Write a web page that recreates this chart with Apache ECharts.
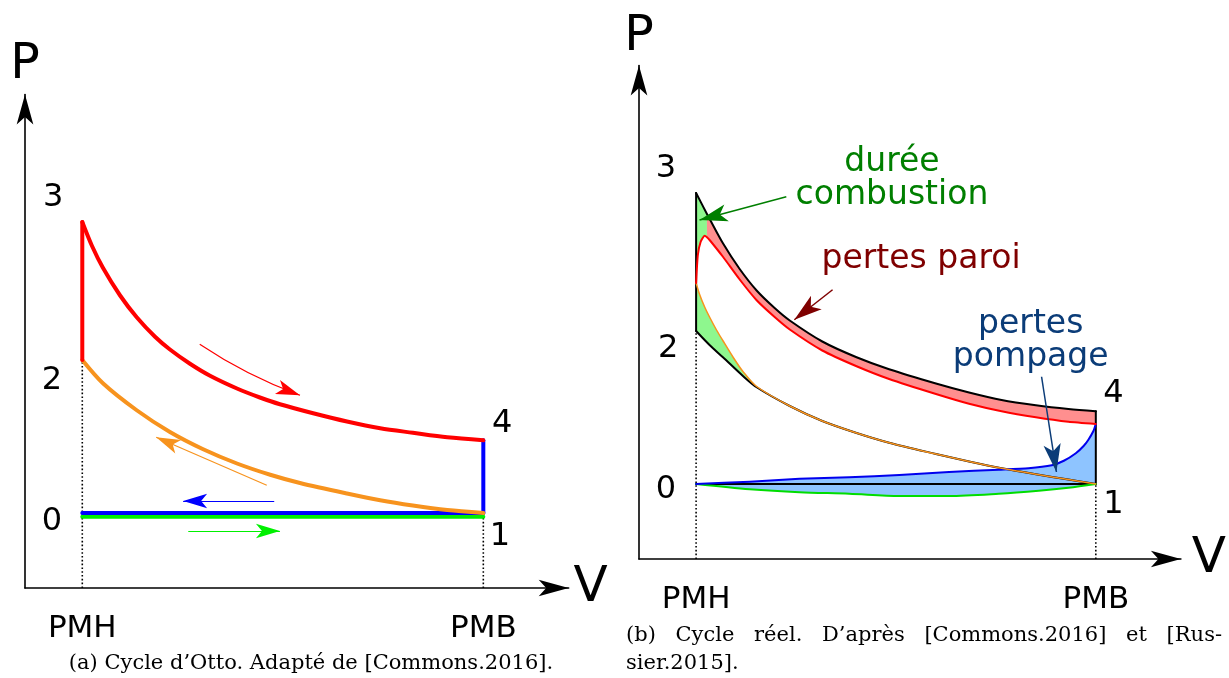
<!DOCTYPE html>
<html><head><meta charset="utf-8">
<script src="https://cdn.jsdelivr.net/npm/echarts@6/dist/echarts.min.js"></script>
<style>html,body{margin:0;padding:0;background:#fff}#c{width:1229px;height:678px}</style>
</head><body><div id="c"></div>
<script>
// ---------- shared axis content ----------
const volumeTicks = [1, 8];
const volumeTickLabels = ['PMH', 'PMB'];
const V_MAX = 9.49, P_MAX = 6.58;

// ---------- (a) Otto cycle (V, P) ----------
const ottoCombustion = [[1, 3.04], [1, 4.88]];
const ottoExpansion = [[1,4.88],[1.17,4.56],[1.36,4.27],[1.66,3.90],[1.95,3.61],[2.27,3.35],[2.53,3.18],[2.88,2.99],[3.23,2.83],[3.70,2.66],[4.10,2.54],[4.45,2.45],[5.03,2.33],[5.62,2.22],[6.20,2.13],[6.77,2.07],[7.37,2.01],[8,1.97]];
const ottoCompression = [[1,3.04],[1.36,2.73],[1.95,2.37],[2.53,2.08],[3.11,1.85],[3.70,1.66],[4.28,1.51],[4.80,1.40],[5.62,1.26],[6.20,1.17],[6.77,1.10],[7.37,1.04],[8,1.0]];
const ottoBlowdown = [[8, 1.97], [8, 1.0]];
const ottoExhaust = [[8, 1.0], [1, 1.0]];
const ottoIntake = [[1, 0.95], [8, 0.95]];
const ottoPMH = [[1, 0], [1, 3.04]];
const ottoPMB = [[8, 0], [8, 0.95]];
const ottoArrowExpansion = [[3.05, 3.25], [4.80, 2.57]];
const ottoArrowCompression = [[4.22, 1.37], [2.29, 2.01]];
const ottoArrowExhaust = [[4.35, 1.16], [2.76, 1.16]];
const ottoArrowIntake = [[2.85, 0.76], [4.45, 0.76]];
const ottoStateLabels = [['3', 0.49, 5.2], ['2', 0.47, 2.76], ['0', 0.47, 0.89], ['4', 8.33, 2.19], ['1', 8.29, 0.68]];

// ---------- (b) real cycle (V, P) ----------
const idealCombustion = [[1, 3.04], [1, 4.88]];
const idealExpansion = [[1,4.88],[1.19,4.60],[1.24,4.53],[1.47,4.21],[1.76,3.87],[2.06,3.58],[2.37,3.35],[2.64,3.18],[3.21,2.90],[3.81,2.69],[4.38,2.53],[5.20,2.34],[5.78,2.22],[6.35,2.12],[6.95,2.05],[7.52,2.00],[8,1.97]];
const idealCompression = [[1,3.04],[1.24,2.85],[1.47,2.69],[1.82,2.44],[2.06,2.29],[2.64,2.04],[3.21,1.84],[3.81,1.68],[4.38,1.55],[5.20,1.40],[5.78,1.30],[6.35,1.21],[6.95,1.13],[7.52,1.06],[8,1.0]];
const idealBlowdown = [[8, 1.97], [8, 1.0]];
const idealExhaust = [[8, 1.0], [1, 1.0]];
const realExpansion = [[1,3.68],[1.03,4.05],[1.08,4.23],[1.15,4.31],[1.19,4.29],[1.24,4.25],[1.47,4.03],[1.76,3.73],[2.06,3.45],[2.37,3.23],[2.64,3.06],[3.21,2.78],[3.81,2.57],[4.38,2.40],[5.20,2.20],[5.78,2.07],[6.35,1.97],[6.95,1.89],[7.52,1.83],[8,1.80]];
const realCompression = [[1,3.68],[1.06,3.53],[1.15,3.36],[1.24,3.22],[1.36,3.05],[1.47,2.91],[1.64,2.70],[1.82,2.50],[2.06,2.30],[2.64,2.04],[3.21,1.84],[3.81,1.68],[4.38,1.55],[5.20,1.40],[5.78,1.30],[6.35,1.21],[6.95,1.13],[7.52,1.06],[8,1.0]];
const realExhaust = [[1,1.0],[1.94,1.03],[2.81,1.07],[3.68,1.09],[4.56,1.12],[5.43,1.16],[6.30,1.19],[6.82,1.21],[7.23,1.25],[7.44,1.31],[7.65,1.41],[7.79,1.51],[7.87,1.59],[7.96,1.71],[8,1.80]];
const realIntake = [[1,1.0],[1.94,0.93],[2.81,0.89],[3.68,0.87],[4.56,0.84],[5.43,0.84],[6.30,0.87],[7.0,0.91],[7.52,0.95],[8,1.0]];
const combustionEndV = 1.19;
const mergeV = 2.06;
const realPMH = [[1, 0], [1, 3.04]];
const realPMB = [[8, 0], [8, 1.0]];
const arrowCombustion = [[2.58, 4.83], [1.06, 4.52]];
const arrowWall = [[3.39, 3.59], [2.72, 3.19]];
const arrowPumping = [[7.05, 2.43], [7.31, 1.16]];
const realStateLabels = [['3', 0.47, 5.21], ['2', 0.51, 2.81], ['0', 0.47, 0.92], ['4', 8.31, 2.2], ['1', 8.31, 0.72]];
const noteCombustion = ['durée\ncombustion', 4.43, 5.07];
const noteWall = ['pertes paroi', 4.94, 3.99];
const notePumping = ['pertes\npompage', 6.86, 2.91];

// ---------- captions ----------
const captionA = '(a) Cycle d’Otto. Adapté de [Commons.2016].';
const captionB1 = ['(b)', 'Cycle', 'réel.', 'D’après', '[Commons.2016]', 'et', '[Rus-'];
const captionB2 = 'sier.2015].';

// ---------- helpers ----------
const FONT = 'DejaVu Sans';
const SERIF = 'DejaVu Serif';
const CAP_SIZE = 21;

function line(g, data, color, width, z, extra) {
  return Object.assign({ type: 'line', xAxisIndex: g, yAxisIndex: g, data: data, symbol: 'none', showSymbol: false,
    lineStyle: { color: color, width: width, join: 'round', cap: 'round' }, z: z, silent: true }, extra || {});
}
function curve(g, data, color, width, z, s) {
  return line(g, data, color, width, z, { smooth: s || 0.3 });
}
function dotted(g, data) {
  return line(g, data, '#000', 1.6, 2, { lineStyle: { color: '#000', width: 1.6, type: [1.6, 2.2] } });
}
function arrow(g, coords, color, width, head, curveness) {
  return { type: 'lines', coordinateSystem: 'cartesian2d', xAxisIndex: g, yAxisIndex: g, z: 20, silent: true,
    data: [{ coords: coords }], symbol: ['none', 'arrow'], symbolSize: [[1, 1], head],
    lineStyle: { color: color, width: width, opacity: 1, curveness: curveness || 0 } };
}
function area(g, polygon, color, z) {
  return { type: 'custom', coordinateSystem: 'cartesian2d', xAxisIndex: g, yAxisIndex: g, z: z, silent: true,
    data: [polygon[0]],
    renderItem: function (params, api) {
      return { type: 'polygon', shape: { points: polygon.map(function (p) { return api.coord(p); }) }, style: { fill: color } };
    } };
}
function labels(g, items, color, size) {
  return { type: 'scatter', xAxisIndex: g, yAxisIndex: g, symbolSize: 1, itemStyle: { color: 'rgba(0,0,0,0)', opacity: 1 }, z: 30, silent: true,
    data: items.map(function (it) { return { name: it[0], value: [it[1], it[2]] }; }),
    label: { show: true, position: 'inside', formatter: '{b}', color: color, opacity: 1, fontSize: size, lineHeight: size,
      fontFamily: FONT, align: 'center', verticalAlign: 'middle' } };
}
function xAx(g, nameGap) {
  return { gridIndex: g, type: 'value', min: 0, max: V_MAX, name: 'V', nameLocation: 'end', nameGap: nameGap,
    nameTextStyle: { fontSize: 50, fontFamily: FONT, color: '#000', align: 'center', verticalAlign: 'middle', padding: [6, 0, 0, 0] },
    axisLine: { show: true, onZero: false, symbol: ['none', 'arrow'], symbolSize: [12.5, 30], lineStyle: { color: '#000', width: 1.6 } },
    axisTick: { show: false }, splitLine: { show: false },
    axisLabel: { show: true, customValues: volumeTicks, margin: 25, fontSize: 31, fontFamily: FONT, color: '#000',
      formatter: function (v) { return volumeTickLabels[volumeTicks.indexOf(v)]; } } };
}
function yAx(g, nameGap) {
  return { gridIndex: g, type: 'value', min: 0, max: P_MAX, name: 'P', nameLocation: 'end', nameGap: nameGap,
    nameTextStyle: { fontSize: 49, fontFamily: FONT, color: '#000', align: 'center', verticalAlign: 'middle' },
    axisLine: { show: true, onZero: false, symbol: ['none', 'arrow'], symbolSize: [12.5, 30], lineStyle: { color: '#000', width: 1.6 } },
    axisTick: { show: false }, splitLine: { show: false }, axisLabel: { show: false } };
}

// ---------- polygons built from the curves ----------
const greenTop = idealExpansion.filter(function (p) { return p[0] <= combustionEndV; })
  .concat(realExpansion.filter(function (p) { return p[0] <= combustionEndV; }).reverse());
const redBand = idealExpansion.filter(function (p) { return p[0] >= combustionEndV; })
  .concat(realExpansion.filter(function (p) { return p[0] >= combustionEndV; }).reverse());
const greenBottom = idealCompression.filter(function (p) { return p[0] <= mergeV; })
  .concat(realCompression.filter(function (p) { return p[0] <= mergeV; }).reverse());
const blueLoop = realExhaust.concat(realIntake.slice().reverse());

// ---------- captions layout ----------
const ctx = document.createElement('canvas').getContext('2d');
ctx.font = CAP_SIZE + 'px "' + SERIF + '"';
const bLeft = 626, bRight = 1222;
const wordW = captionB1.map(function (w) { return ctx.measureText(w).width; });
const gap = (bRight - bLeft - wordW.reduce(function (a, b) { return a + b; }, 0)) / (captionB1.length - 1);
const graphics = [];
let xCursor = bLeft;
captionB1.forEach(function (w, i) {
  graphics.push({ type: 'text', x: xCursor, y: 636, style: { text: w, fontFamily: SERIF, fontSize: CAP_SIZE, fill: '#000', align: 'left', verticalAlign: 'middle' } });
  xCursor += wordW[i] + gap;
});
graphics.push({ type: 'text', x: bLeft, y: 664, style: { text: captionB2, fontFamily: SERIF, fontSize: CAP_SIZE, fill: '#000', align: 'left', verticalAlign: 'middle' } });
graphics.push({ type: 'text', x: 311, y: 664, style: { text: captionA, fontFamily: SERIF, fontSize: CAP_SIZE, fill: '#000', align: 'center', verticalAlign: 'middle' } });

const RED = '#ff0000', ORANGE = '#f7931e', BLUE = '#0000ff', GREEN = '#00f000';
const GW = V_MAX * 57.29, GH = P_MAX * 75;

const option = {
  animation: false,
  backgroundColor: '#ffffff',
  grid: [
    { left: 25, top: 588 - GH, width: GW, height: GH },
    { left: 639, top: 559 - GH, width: GW, height: GH }
  ],
  xAxis: [xAx(0, 22), xAx(1, 28)],
  yAxis: [yAx(0, 29.5), yAx(1, 28.5)],
  graphic: graphics,
  series: [
    // ---- (a) ----
    dotted(0, ottoPMH),
    dotted(0, ottoPMB),
    line(0, ottoIntake, GREEN, 4, 3),
    line(0, ottoExhaust, BLUE, 4, 4),
    line(0, ottoBlowdown, BLUE, 4, 4),
    curve(0, ottoCompression, ORANGE, 4, 4),
    line(0, ottoCombustion, RED, 4, 5),
    curve(0, ottoExpansion, RED, 4, 5),
    arrow(0, ottoArrowExpansion, RED, 1.2, [11, 24], -0.06),
    arrow(0, ottoArrowCompression, ORANGE, 1.2, [11, 24], 0),
    arrow(0, ottoArrowExhaust, BLUE, 1.2, [11, 24], 0),
    arrow(0, ottoArrowIntake, GREEN, 1.2, [11, 24], 0),
    labels(0, ottoStateLabels, '#000', 32),
    // ---- (b) ----
    area(1, blueLoop, '#8ec4ff', 1),
    area(1, greenTop, '#8ef78e', 1),
    area(1, greenBottom, '#8ef78e', 1),
    area(1, redBand, '#ff8f8f', 1),
    dotted(1, realPMH),
    dotted(1, realPMB),
    line(1, idealCombustion, '#000', 2, 3),
    curve(1, idealExpansion, '#000', 2, 3),
    curve(1, idealCompression, '#000', 2, 3),
    line(1, idealBlowdown, '#000', 2, 3),
    line(1, idealExhaust, '#000', 2, 3),
    curve(1, realIntake, '#00dd00', 2, 4),
    curve(1, realExhaust, '#0000ee', 2, 4, 0.2),
    curve(1, realCompression, ORANGE, 1.5, 5, 0.3),
    curve(1, realExpansion, RED, 2, 5, 0.2),
    arrow(1, arrowCombustion, '#007f00', 1.5, [13, 28], 0),
    arrow(1, arrowWall, '#7f0000', 1.5, [13, 28], 0),
    arrow(1, arrowPumping, '#0b3c78', 1.5, [13, 28], 0),
    labels(1, realStateLabels, '#000', 32),
    labels(1, [noteCombustion], '#007f00', 33),
    labels(1, [noteWall], '#7f0000', 33),
    labels(1, [notePumping], '#0b3c78', 33)
  ]
};
const chart = echarts.init(document.getElementById('c'), null, { renderer: 'canvas' });
chart.setOption(option);
</script>
</body></html>
